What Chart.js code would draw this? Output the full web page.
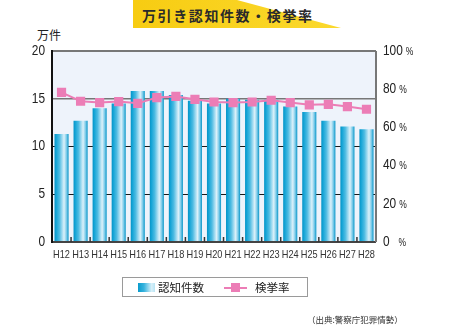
<!DOCTYPE html>
<html>
<head>
<meta charset="utf-8">
<script src="https://cdn.jsdelivr.net/npm/chart.js@4/dist/chart.umd.min.js"></script>
<style>
  body { margin: 0; background: #fff; width: 450px; height: 325px; overflow: hidden; position: relative;
         font-family: "Noto Sans CJK JP", "Noto Sans", sans-serif; color: #222; }
  #wrap { position: absolute; left: 0; top: 0; width: 450px; height: 325px; }
  .banner { position: absolute; left: 133px; top: 0; width: 208px; height: 28px;
            background: linear-gradient(90deg, #f7cc12, #fbd92e);
            clip-path: polygon(0 0, 50% 0, 100% 100%, 0 100%); }
  .title { position: absolute; left: 142px; top: 5px; font-size: 14px; letter-spacing: 1.6px;
           font-weight: bold; color: #2a2a2a; line-height: 20px; white-space: nowrap; }
  .unit { position: absolute; left: 37px; top: 27px; font-size: 12px; line-height: 16px; color: #222; }
  .legend { position: absolute; left: 122px; top: 277px; width: 184px; height: 18px;
            border: 1px solid #9a9a9a; background: #fff; }
  .legend .sw { position: absolute; left: 15px; top: 5px; width: 17px; height: 9px;
                background: linear-gradient(90deg, #0a9bcc, #36b3de 35%, #d8f0f9 80%, #b8e4f4); }
  .legend .t1 { position: absolute; left: 35px; top: 1px; font-size: 11.5px; line-height: 16px; }
  .legend .ln { position: absolute; left: 101px; top: 9px; width: 23px; height: 2px; background: #ec7db6; }
  .legend .mk { position: absolute; left: 108px; top: 5px; width: 9px; height: 9px; background: #ec7db6; }
  .legend .t2 { position: absolute; left: 132px; top: 1px; font-size: 11.5px; line-height: 16px; }
  .source { position: absolute; left: 307px; top: 313px; font-size: 8.5px; line-height: 12px; color: #333; white-space: nowrap; }
</style>
</head>
<body>
<div class="banner"></div>
<div class="title">万引き認知件数・検挙率</div>
<div class="unit">万件</div>
<div id="wrap"><canvas id="chart" width="450" height="325"></canvas></div>
<div class="legend">
  <div class="sw"></div><div class="t1">認知件数</div>
  <div class="ln"></div><div class="mk"></div><div class="t2">検挙率</div>
</div>
<div class="source">（出典:警察庁犯罪情勢）</div>
<script>
// 年度
const years = ['H12', 'H13', 'H14', 'H15', 'H16', 'H17', 'H18', 'H19', 'H20',
               'H21', 'H22', 'H23', 'H24', 'H25', 'H26', 'H27', 'H28'];
// 認知件数 (万件)
const cases = [11.3, 12.7, 14.0, 14.5, 15.8, 15.8, 15.4, 14.8, 14.5,
               15.0, 14.9, 14.9, 14.2, 13.6, 12.7, 12.1, 11.8];
// 検挙率 (%)
const rates = [78.3, 73.7, 73.0, 73.5, 72.6, 75.6, 76.2, 74.7, 73.3,
               73.0, 73.3, 74.2, 73.0, 71.8, 72.1, 70.9, 69.5];
const leftTicks = [0, 5, 10, 15, 20];
const rightTicks = [0, 20, 40, 60, 80, 100];

const BAR_PCT = 0.74;
const sans = '"Liberation Sans", Arial, sans-serif';

// 円柱っぽいグラデーション
function barFill(c) {
    const ch = c.chart;
    if (c.type !== 'data' || !ch.chartArea || !ch.scales.x) return '#2ab0dc';
    const cx = ch.scales.x.getPixelForValue(c.dataIndex);
    const w = (ch.chartArea.right - ch.chartArea.left) / years.length * BAR_PCT;
    const g = ch.ctx.createLinearGradient(cx - w / 2, 0, cx + w / 2, 0);
    g.addColorStop(0, '#0593c6');
    g.addColorStop(0.12, '#14a4d6');
    g.addColorStop(0.35, '#4dbbe2');
    g.addColorStop(0.68, '#dcf1fa');
    g.addColorStop(0.85, '#7ccbe9');
    g.addColorStop(1, '#0896c8');
    return g;
}

// 縦長の細い文字
function condensedText(ctx, s, x, y, sx) {
    ctx.save();
    ctx.translate(x, y);
    ctx.scale(sx, 1);
    ctx.fillText(s, 0, 0);
    ctx.restore();
}

const decor = {
    id: 'decor',
    beforeDraw(chart) {
        const a = chart.chartArea, ctx = chart.ctx;
        ctx.save();
        ctx.fillStyle = '#eef3fb';
        ctx.fillRect(a.left, a.top, a.right - a.left, a.bottom - a.top);
        ctx.restore();
    },
    afterDatasetsDraw(chart) {
        const a = chart.chartArea, ctx = chart.ctx, xs = chart.scales.x;
        ctx.save();
        // 右枠
        ctx.strokeStyle = '#777';
        ctx.lineWidth = 2;
        ctx.beginPath();
        ctx.moveTo(a.right, a.top);
        ctx.lineTo(a.right, a.bottom);
        ctx.stroke();
        // 底辺の内向き目盛り
        ctx.strokeStyle = '#333';
        ctx.lineWidth = 1.5;
        for (let i = 1; i < years.length; i++) {
            const x = (xs.getPixelForValue(i - 1) + xs.getPixelForValue(i)) / 2;
            ctx.beginPath();
            ctx.moveTo(x, a.bottom);
            ctx.lineTo(x, a.bottom - 5);
            ctx.stroke();
        }
        ctx.restore();
    },
    afterDraw(chart) {
        const a = chart.chartArea, ctx = chart.ctx, ys = chart.scales.y1, xs = chart.scales.x;
        ctx.save();
        ctx.fillStyle = '#222';
        ctx.textBaseline = 'middle';
        // 右軸 (%)
        ctx.textAlign = 'left';
        rightTicks.forEach(v => {
            const y = ys.getPixelForValue(v);
            const x = a.right + 7;
            ctx.font = '14px ' + sans;
            const s = String(v);
            condensedText(ctx, s, x, y, 0.85);
            const w = ctx.measureText(s).width * 0.85;
            ctx.font = '10px ' + sans;
            condensedText(ctx, '%', x + w + (v === 0 ? 9 : 3), y + 1, 0.85);
        });
        // 左軸
        ctx.textAlign = 'right';
        ctx.font = '14px ' + sans;
        leftTicks.forEach(v => {
            condensedText(ctx, String(v), a.left - 7, chart.scales.y.getPixelForValue(v), 0.85);
        });
        // 年度ラベル
        ctx.textAlign = 'center';
        ctx.fillStyle = '#333';
        ctx.font = '11.5px ' + sans;
        years.forEach((s, i) => {
            condensedText(ctx, s, xs.getPixelForValue(i), a.bottom + 13, 0.8);
        });
        ctx.restore();
    }
};

const ctx = document.getElementById('chart').getContext('2d');
new Chart(ctx, {
    data: {
        labels: years,
        datasets: [{
            type: 'line',
            label: '検挙率',
            data: rates,
            yAxisID: 'y1',
            borderColor: '#ec7db6',
            backgroundColor: '#ec7db6',
            borderWidth: 2,
            pointStyle: 'rect',
            pointRadius: 6.5,
            pointBorderWidth: 0,
            order: 1
        }, {
            type: 'bar',
            label: '認知件数',
            data: cases,
            yAxisID: 'y',
            backgroundColor: barFill,
            borderWidth: 0,
            categoryPercentage: 1,
            barPercentage: BAR_PCT,
            order: 2
        }]
    },
    options: {
        responsive: false,
        animation: false,
        layout: { padding: { left: 22, right: 74, top: 51, bottom: 53 } },
        plugins: { legend: { display: false }, tooltip: { enabled: false } },
        scales: {
            x: {
                grid: { display: false },
                border: { display: false },
                ticks: { display: false },
                afterFit: s => { s.height = 30; }
            },
            y: {
                position: 'left',
                min: 0, max: 20,
                afterBuildTicks: s => { s.ticks = leftTicks.map(v => ({ value: v })); },
                grid: {
                    drawTicks: false,
                    color: c => (c.tick.value === 15 || c.tick.value === 20) ? '#777' : (c.tick.value === 0 ? '#444' : '#1a1a1a'),
                    lineWidth: c => c.tick.value === 20 ? 2 : (c.tick.value === 15 ? 1.6 : (c.tick.value === 0 ? 2 : 1))
                },
                border: { color: '#111', width: 2 },
                ticks: { display: false },
                afterFit: s => { s.width = 30; }
            },
            y1: {
                display: false,
                position: 'right',
                min: 0, max: 100
            }
        }
    },
    plugins: [decor]
});
</script>
</body>
</html>
